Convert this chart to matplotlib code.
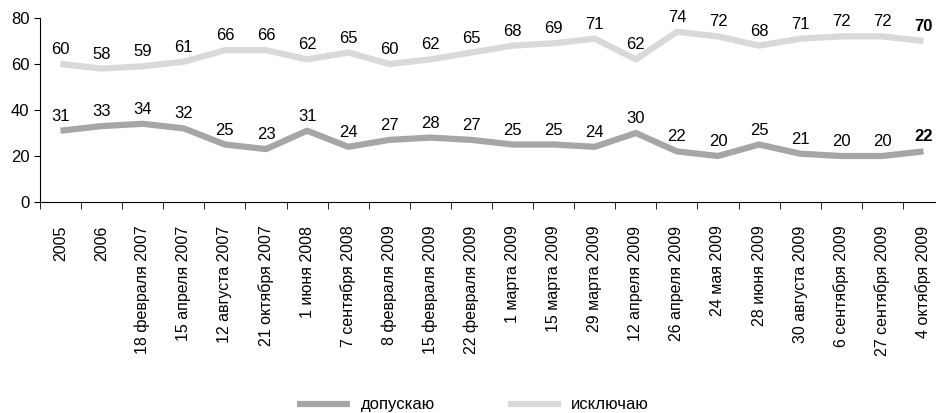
import matplotlib.pyplot as plt
import numpy as np

categories = [
    "2005", "2006", "18 февраля 2007", "15 апреля 2007", "12 августа 2007",
    "21 октября 2007", "1 июня 2008", "7 сентября 2008", "8 февраля 2009",
    "15 февраля 2009", "22 февраля 2009", "1 марта 2009", "15 марта 2009",
    "29 марта 2009", "12 апреля 2009", "26 апреля 2009", "24 мая 2009",
    "28 июня 2009", "30 августа 2009", "6 сентября 2009", "27 сентября 2009",
    "4 октября 2009",
]
allow = [31, 33, 34, 32, 25, 23, 31, 24, 27, 28, 27, 25, 25, 24, 30, 22, 20, 25, 21, 20, 20, 22]
exclude = [60, 58, 59, 61, 66, 66, 62, 65, 60, 62, 65, 68, 69, 71, 62, 74, 72, 68, 71, 72, 72, 70]

plt.rcParams['font.family'] = ['Liberation Sans', 'DejaVu Sans']

fig = plt.figure(figsize=(9.37, 4.13), dpi=100)
ax = fig.add_axes([40 / 937, 1 - 202 / 413, 904 / 937, 184 / 413])

x = np.arange(len(categories))
ax.plot(x, allow, color="#a6a6a6", lw=4.5, solid_capstyle="butt", label="допускаю")
ax.plot(x, exclude, color="#d9d9d9", lw=4.5, solid_capstyle="butt", label="исключаю")

n = len(categories)
for series in (allow, exclude):
    for i, v in enumerate(series):
        ax.annotate(str(v), (i, v), xytext=(0, 5), textcoords="offset points",
                    ha="center", va="bottom", fontsize=12,
                    fontweight="bold" if i == n - 1 else "normal")

ax.set_xlim(-0.5, n - 0.5)
ax.set_ylim(0, 80)
ax.set_yticks([0, 20, 40, 60, 80])
ax.tick_params(axis="y", labelsize=12, direction="out", length=4)

ax.set_xticks(x)
ax.set_xticklabels(categories, rotation=90, fontsize=11.5)
ax.tick_params(axis="x", which="major", length=0, pad=17)
ax.set_xticks(np.arange(n + 1) - 0.5, minor=True)
ax.tick_params(axis="x", which="minor", length=5, direction="out")

for s in ("top", "right"):
    ax.spines[s].set_visible(False)

fig.legend(loc="lower center", bbox_to_anchor=(0.505, -0.035), ncol=2, frameon=False,
           fontsize=12, handlelength=3.2, handletextpad=0.6, columnspacing=4.4)

fig.savefig("out.png", dpi=100)
